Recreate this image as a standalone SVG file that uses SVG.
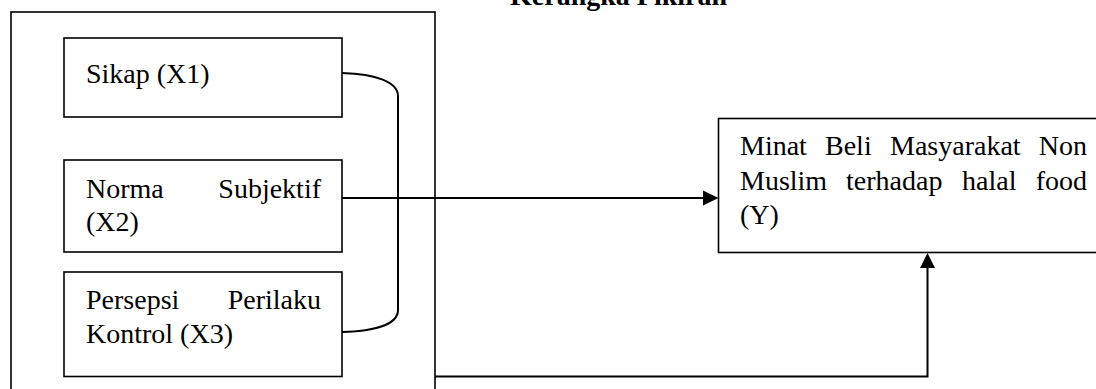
<svg xmlns="http://www.w3.org/2000/svg" width="1096" height="389" viewBox="0 0 1096 389">
<style>
.box{fill:#fff;stroke:#000;stroke-width:1.6}
.frame{fill:none;stroke:#000;stroke-width:1.6}
.t{font-family:'Liberation Serif','Times New Roman',Times,'DejaVu Serif',serif;font-size:28px;fill:#000}
.title{font-family:'Liberation Serif','Times New Roman',Times,'DejaVu Serif',serif;font-size:28px;font-weight:bold;fill:#000}
.c{fill:none;stroke:#000;stroke-width:2}
.ah{fill:#000;stroke:none}
</style>
<rect width="1096" height="389" fill="#fff"/>
<text class="title" x="510" y="5">Kerangka Pikiran</text>
<g id="frame"><rect class="frame" x="11" y="12" width="424" height="420"/></g>
<g id="connectors">
<path class="c" d="M342,73 C376,74 398,82 398,96 L398,310 C398,324 376,331 342,332"/>
<path class="c" d="M342,198 L704,198" stroke-width="2.4"/>
<polygon class="ah" points="703,190.5 718.5,198 703,205.5"/>
<path class="c" d="M435,376.5 L927.5,376.5 L927.5,267"/>
<polygon class="ah" points="920,268 927.5,253 935,268"/>
</g>
<g id="x1">
<rect class="box" x="64" y="38" width="278" height="79"/>
<text class="t" x="86" y="83">Sikap (X1)</text>
</g>
<g id="x2">
<rect class="box" x="64" y="160" width="278" height="92"/>
<text class="t" x="86" y="198">Norma</text>
<text class="t" x="321" y="198" text-anchor="end">Subjektif</text>
<text class="t" x="86" y="231">(X2)</text>
</g>
<g id="x3">
<rect class="box" x="64" y="272" width="278" height="104.5"/>
<text class="t" x="86" y="309">Persepsi</text>
<text class="t" x="321" y="309" text-anchor="end">Perilaku</text>
<text class="t" x="86" y="343">Kontrol (X3)</text>
</g>
<g id="y">
<rect class="box" x="718.5" y="118.5" width="400" height="134"/>
<text class="t" x="740" y="155">Minat</text>
<text class="t" x="825" y="155">Beli</text>
<text class="t" x="890" y="155">Masyarakat</text>
<text class="t" x="1087" y="155" text-anchor="end">Non</text>
<text class="t" x="740" y="189.5">Muslim</text>
<text class="t" x="846" y="189.5">terhadap</text>
<text class="t" x="962" y="189.5">halal</text>
<text class="t" x="1087" y="189.5" text-anchor="end">food</text>
<text class="t" x="740" y="224">(Y)</text>
</g>
</svg>
